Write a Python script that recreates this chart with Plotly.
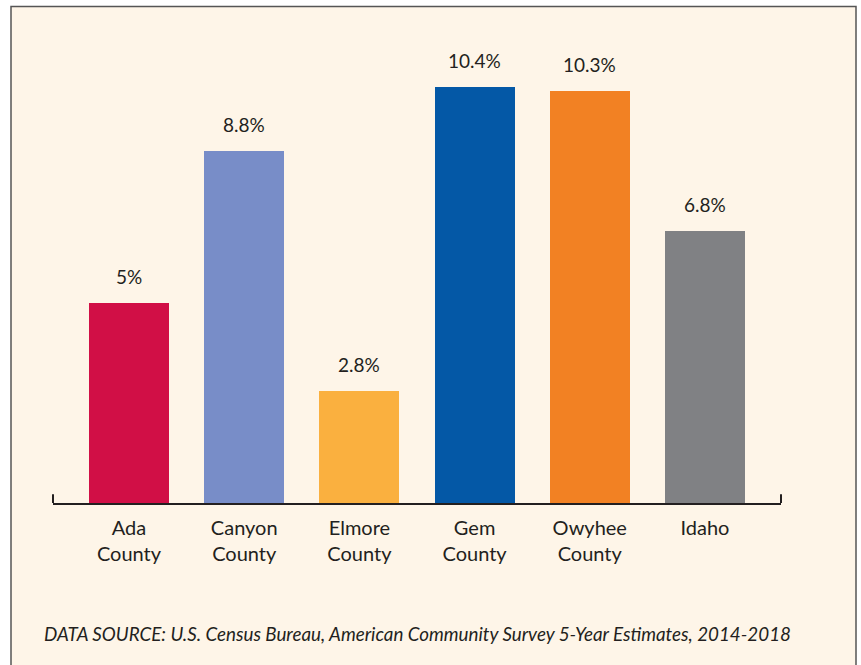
import plotly.graph_objects as go

categories = ["Ada<br>County", "Canyon<br>County", "Elmore<br>County", "Gem<br>County", "Owyhee<br>County", "Idaho"]
values = [5, 8.8, 2.8, 10.4, 10.3, 6.8]
labels = ["5%", "8.8%", "2.8%", "10.4%", "10.3%", "6.8%"]
colors = ["#D10F46", "#788DC8", "#FAB03F", "#0458A6", "#F28123", "#808184"]
source = "DATA SOURCE: U.S. Census Bureau, American Community Survey 5-Year Estimates, 2014-2018"

W, H = 861, 665
L, R, T, B = 53, 80, 43, 162
pw, ph = W - L - R, H - T - B

def px_x(p):
    return (p - L) / pw

def px_y(p):
    return (H - B - p) / ph

FONT = "Lato"
TXT = "#231F20"

fig = go.Figure()
fig.add_trace(go.Bar(
    x=list(range(len(categories))), y=values,
    marker=dict(color=colors, line=dict(width=0)),
    width=0.694, hoverinfo="skip",
))

for i, (v, t) in enumerate(zip(values, labels)):
    fig.add_annotation(x=i, y=v, text=t, showarrow=False, yanchor="bottom",
                       yshift=13, font=dict(family=FONT, size=19, color=TXT))

fig.add_annotation(xref="paper", yref="paper", x=px_x(42), y=px_y(633),
                   xanchor="left", yanchor="middle", showarrow=False,
                   text="<i>" + source + "</i>",
                   font=dict(family=FONT, size=18.8, color=TXT))

shapes = [
    dict(type="rect", xref="paper", yref="paper", x0=px_x(11), x1=px_x(856),
         y0=px_y(720), y1=px_y(6.5), fillcolor="#FEF5E8",
         line=dict(color="#555555", width=1.5), layer="below"),
    dict(type="line", xref="x domain", yref="y", x0=0, x1=0, y0=0, y1=0.22,
         line=dict(color=TXT, width=2)),
    dict(type="line", xref="x domain", yref="y", x0=1, x1=1, y0=0, y1=0.22,
         line=dict(color=TXT, width=2)),
]

fig.update_layout(
    width=W, height=H,
    margin=dict(l=L, r=R, t=T, b=B, autoexpand=False),
    paper_bgcolor="white", plot_bgcolor="rgba(0,0,0,0)",
    showlegend=False, shapes=shapes,
    bargap=0,
    xaxis=dict(range=[-0.66, 5.66], tickmode="array",
               tickvals=list(range(len(categories))), ticktext=categories,
               showgrid=False, zeroline=False, showline=True,
               linecolor=TXT, linewidth=2, ticks="",
               tickfont=dict(family=FONT, size=20, color=TXT),
               ticklabelstandoff=6, fixedrange=True),
    yaxis=dict(range=[0, 11.5], visible=False, fixedrange=True),
)

fig.write_html("out.html", config={"displayModeBar": False},
               post_script="document.body.style.margin='0';document.body.style.overflow='hidden';")
